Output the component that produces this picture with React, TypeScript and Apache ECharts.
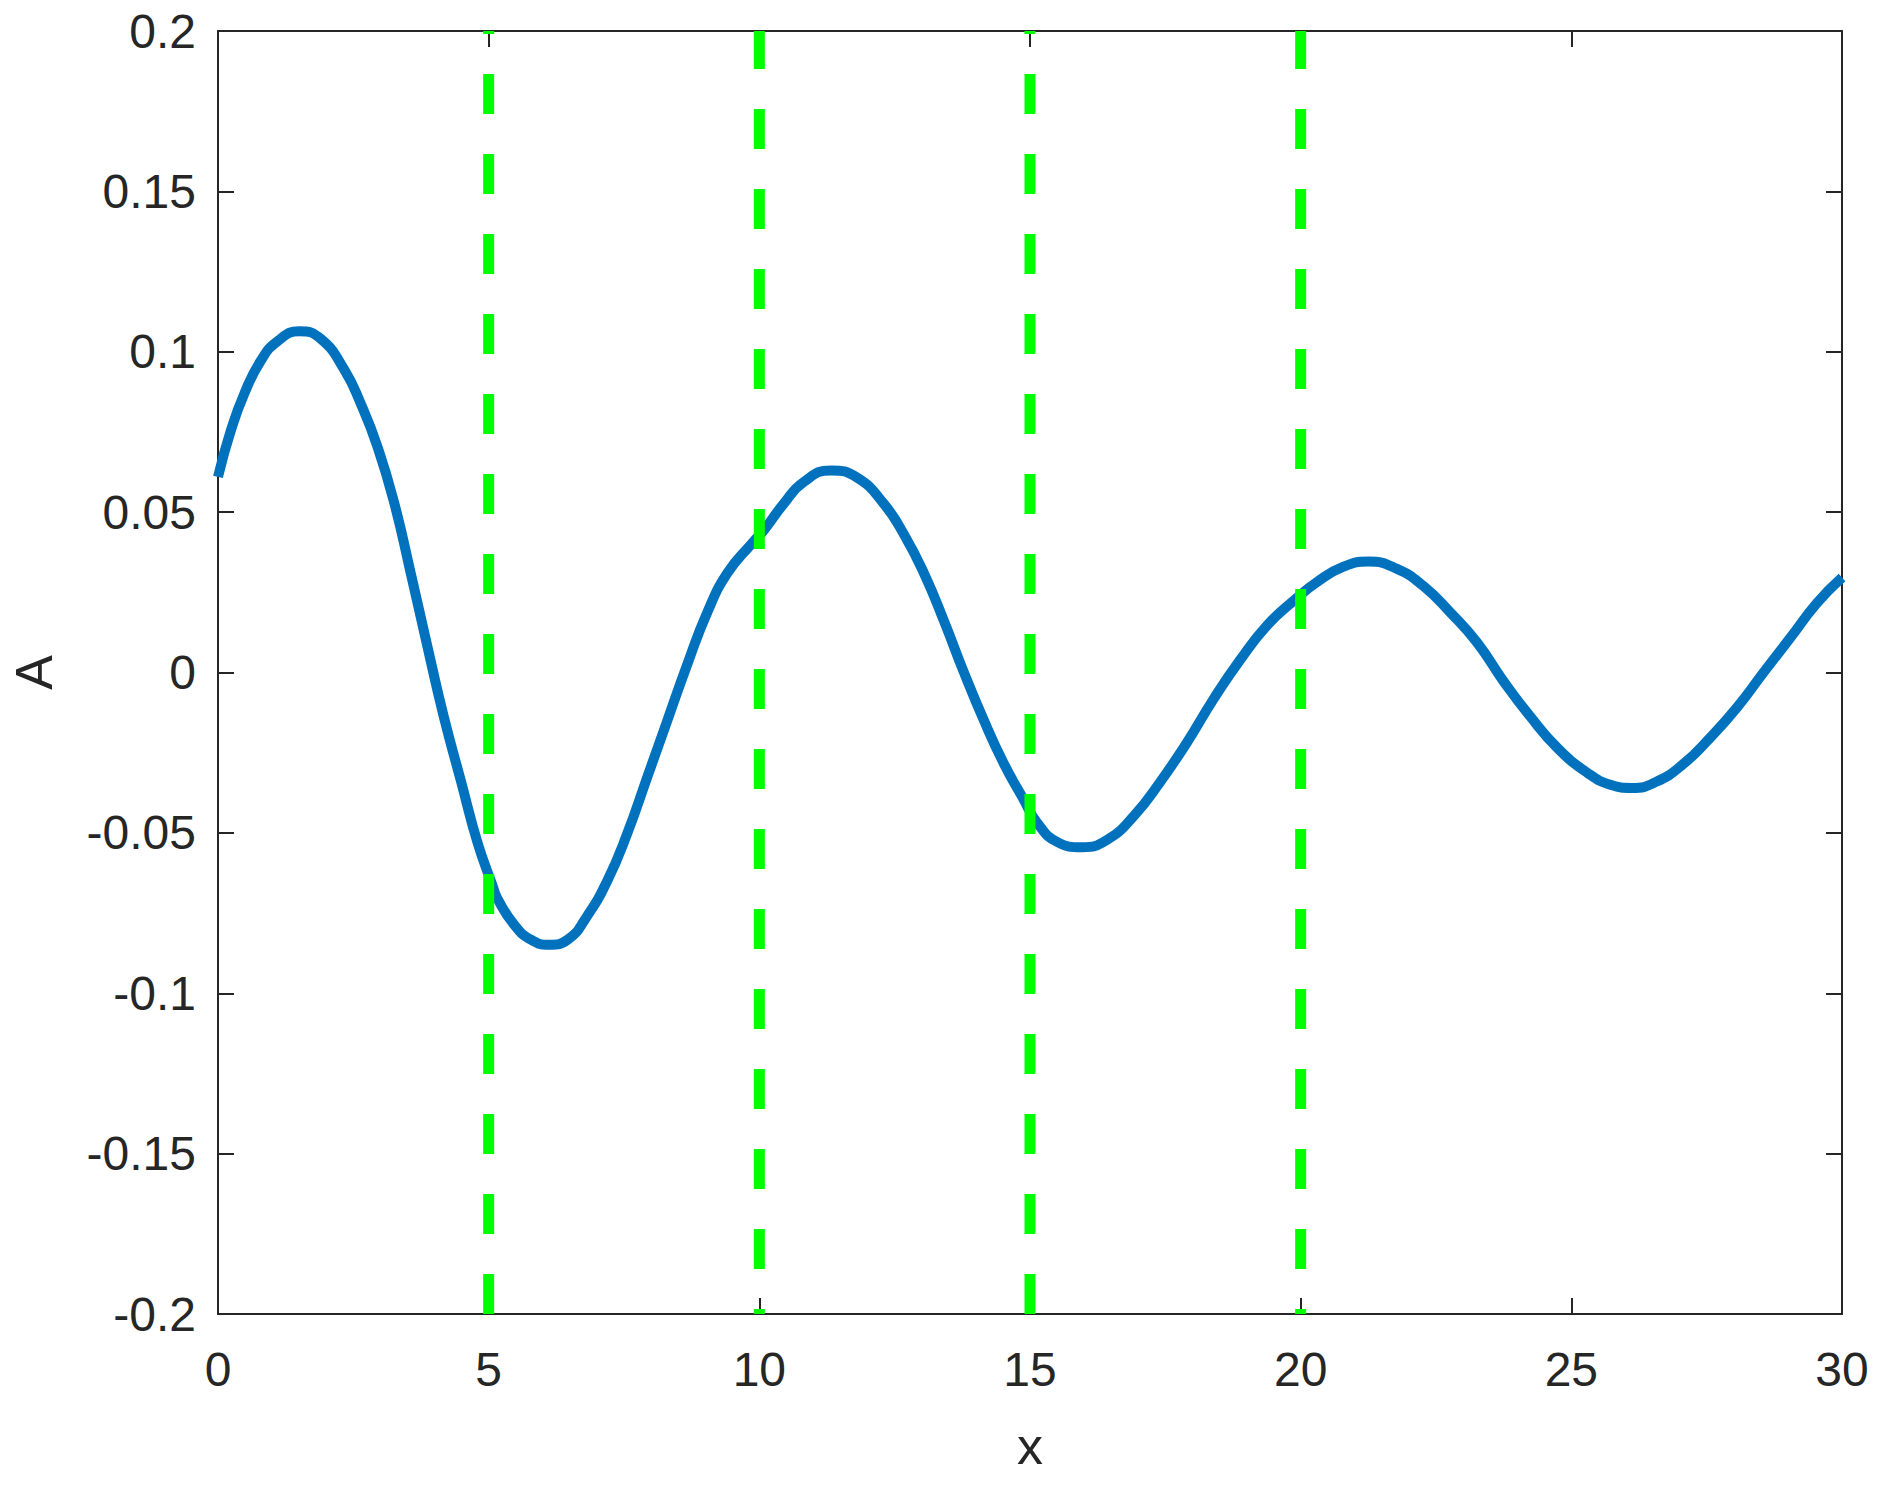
import React, { useEffect, useRef } from "react";
import * as echarts from "echarts";

const xValues = [0, 0.24, 0.49, 0.79, 1.1, 1.5, 1.9, 2.33, 2.64, 2.95, 3.26, 3.56, 3.87, 4.17, 4.49, 4.79, 5.07, 5.16, 5.47, 5.78, 6.12, 6.46, 6.82, 7.19, 7.56, 7.93, 8.3, 8.67, 9.04, 9.41, 9.87, 10.09, 10.45, 10.82, 11.32, 11.81, 12.3, 12.67, 13.04, 13.41, 13.78, 14.15, 14.52, 14.88, 15.13, 15.5, 15.96, 16.42, 16.92, 17.41, 17.9, 18.39, 18.88, 19.38, 19.9, 20.3, 20.79, 21.25, 21.78, 22.27, 22.76, 23.26, 23.75, 24.24, 24.76, 25.29, 25.72, 26.12, 26.58, 27.07, 27.56, 28.06, 28.55, 29.04, 29.53, 30];
const aValues = [0.061, 0.0756, 0.0871, 0.0972, 0.1033, 0.1064, 0.104, 0.0945, 0.0837, 0.0702, 0.0526, 0.031, 0.008, -0.0137, -0.034, -0.0528, -0.0664, -0.0704, -0.0786, -0.0833, -0.0849, -0.0833, -0.0759, -0.065, -0.0502, -0.0326, -0.015, 0.0026, 0.0188, 0.031, 0.0404, 0.0445, 0.0526, 0.0594, 0.063, 0.0607, 0.0526, 0.0431, 0.031, 0.0161, 0.0, -0.015, -0.0285, -0.0395, -0.0468, -0.0528, -0.0545, -0.0522, -0.0447, -0.034, -0.0218, -0.0083, 0.0039, 0.0147, 0.0228, 0.0282, 0.033, 0.0346, 0.0323, 0.0269, 0.0188, 0.0093, -0.0028, -0.0137, -0.0238, -0.0312, -0.035, -0.036, -0.034, -0.0285, -0.0204, -0.0109, 0.0, 0.0107, 0.0215, 0.0296];
const markerX = [5, 10, 15, 20];
const markerDashOffset = [0, 35, 0, 35];
const xTickLabels = ["0", "5", "10", "15", "20", "25", "30"];
const yTickLabels = ["-0.2", "-0.15", "-0.1", "-0.05", "0", "0.05", "0.1", "0.15", "0.2"];

const FONT = "'Liberation Sans', Arial, Helvetica, sans-serif";
const AX = "#262626";

export default function App() {
  const ref = useRef<HTMLDivElement>(null);
  useEffect(() => {
    if (!ref.current) return;
    const chart = echarts.init(ref.current, undefined, { renderer: "svg" });
    const common = {
      axisLine: { show: true, onZero: false, lineStyle: { color: AX, width: 2 } },
      axisTick: { show: true, inside: true, length: 16, lineStyle: { color: AX, width: 2 } },
      splitLine: { show: false },
    };
    const series: any[] = [
      {
        type: "line",
        data: xValues.map((x, i) => [x, aValues[i]]),
        smooth: 0.5,
        showSymbol: false,
        lineStyle: { color: "#0072BD", width: 10, join: "round" },
        itemStyle: { color: "#0072BD" },
      },
    ];
    markerX.forEach((mx, i) => {
      series.push({
        type: "line",
        data: [
          [mx, -0.2],
          [mx, 0.2],
        ],
        showSymbol: false,
        lineStyle: { color: "#00FF00", width: 11, type: [40, 40], dashOffset: markerDashOffset[i], cap: "butt" },
      });
    });
    chart.setOption({
      animation: false,
      backgroundColor: "#ffffff",
      grid: { left: 217, right: 41, top: 31, bottom: 171, containLabel: false },
      xAxis: [
        {
          ...common,
          type: "value",
          min: 0,
          max: 30,
          interval: 5,
          position: "bottom",
          name: "x",
          nameLocation: "middle",
          nameGap: 106,
          nameTextStyle: { fontFamily: FONT, fontSize: 52, color: AX },
          axisLabel: {
            margin: 31,
            fontFamily: FONT,
            fontSize: 48,
            color: AX,
            formatter: (v: number) => xTickLabels[Math.round(v / 5)] ?? String(v),
          },
        },
        { ...common, type: "value", min: 0, max: 30, interval: 5, position: "top", axisLabel: { show: false } },
      ],
      yAxis: [
        {
          ...common,
          type: "value",
          min: -0.2,
          max: 0.2,
          interval: 0.05,
          position: "left",
          name: "A",
          nameLocation: "middle",
          nameGap: 158,
          nameTextStyle: { fontFamily: FONT, fontSize: 52, color: AX },
          axisLabel: {
            margin: 22,
            fontFamily: FONT,
            fontSize: 48,
            color: AX,
            formatter: (v: number) => yTickLabels[Math.round((v + 0.2) / 0.05)] ?? String(v),
          },
        },
        { ...common, type: "value", min: -0.2, max: 0.2, interval: 0.05, position: "right", axisLabel: { show: false } },
      ],
      series,
    });
    return () => chart.dispose();
  }, []);
  return (
    <div
      ref={ref}
      style={{ position: "fixed", left: 0, top: 0, width: 1883, height: 1485, background: "#fff" }}
    />
  );
}
